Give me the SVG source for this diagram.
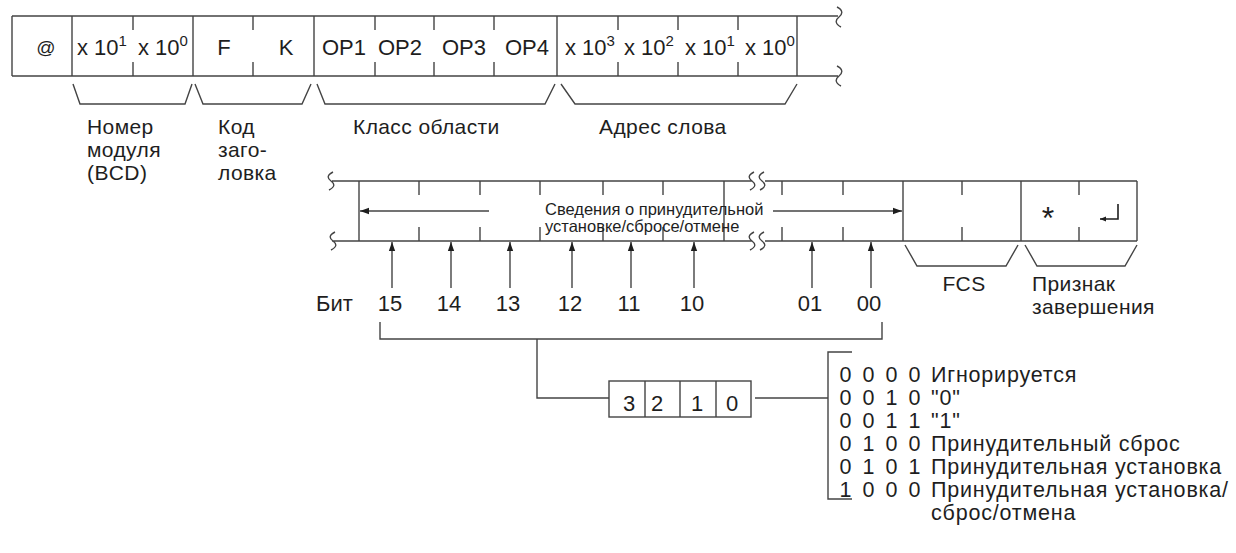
<svg xmlns="http://www.w3.org/2000/svg" width="1236" height="553" viewBox="0 0 1236 553">
<style>
.ln{stroke:#444;stroke-width:1.4;fill:none}
.t{font-family:"Liberation Sans",Arial,sans-serif;font-size:22px;fill:#1e1e1e}
.l{font-family:"Liberation Sans",Arial,sans-serif;font-size:21px;fill:#1e1e1e;letter-spacing:0.4px}
.m{text-anchor:middle}
.f{font-family:"Liberation Sans",Arial,sans-serif;font-size:16.5px;fill:#1e1e1e}
.tb{font-family:"Liberation Sans",Arial,sans-serif;font-size:21.5px;fill:#1e1e1e;letter-spacing:0.8px}
</style>
<defs>
<marker id="ah" viewBox="0 0 10 10" refX="10" refY="5" markerWidth="9" markerHeight="9" markerUnits="userSpaceOnUse" orient="auto"><path d="M0,1.5 L10,5 L0,8.5 z" fill="#1e1e1e"/></marker>
<marker id="ahs" viewBox="0 0 10 10" refX="10" refY="5" markerWidth="6" markerHeight="6" markerUnits="userSpaceOnUse" orient="auto"><path d="M0,1 L10,5 L0,9 z" fill="#1e1e1e"/></marker>
</defs>
<rect width="1236" height="553" fill="#fff"/>

<g id="frame-top">
<path class="ln" d="M12,16 H838 M12,76 H838 M12,16 V76 M72,16 V76 M193,16 V76 M314,16 V76 M557,16 V76 M797,16 V76
M133,16 V30 M133,62 V76 M253,16 V30 M253,62 V76 M375,16 V30 M375,62 V76 M434,16 V30 M434,62 V76 M494,16 V30 M494,62 V76
M618,16 V30 M618,62 V76 M678,16 V30 M678,62 V76 M738,16 V30 M738,62 V76
M837,7 C843,10 843,14 839,17 C835,20 835,24 841,27 M837,66 C843,69 843,73 839,76 C835,79 835,83 841,86"/>
<text class="t m" x="46" y="54" style="font-size:19px">@</text>
<text class="t" x="77" y="55">x 10<tspan dy="-9" font-size="15">1</tspan></text>
<text class="t" x="138" y="55">x 10<tspan dy="-9" font-size="15">0</tspan></text>
<text class="t m" x="224" y="55">F</text>
<text class="t m" x="286" y="55">K</text>
<text class="t" x="322" y="55">OP1</text>
<text class="t" x="378" y="55">OP2</text>
<text class="t" x="442" y="55">OP3</text>
<text class="t" x="505" y="55">OP4</text>
<text class="t" x="565" y="55">x 10<tspan dy="-9" font-size="15">3</tspan></text>
<text class="t" x="624" y="55">x 10<tspan dy="-9" font-size="15">2</tspan></text>
<text class="t" x="685" y="55">x 10<tspan dy="-9" font-size="15">1</tspan></text>
<text class="t" x="745" y="55">x 10<tspan dy="-9" font-size="15">0</tspan></text>
</g>

<g id="labels-top">
<text class="l" x="87" y="134">Номер</text>
<text class="l" x="87" y="157">модуля</text>
<text class="l" x="87" y="180">(BCD)</text>
<text class="l" x="218" y="134">Код</text>
<text class="l" x="218" y="157">заго-</text>
<text class="l" x="218" y="180">ловка</text>
<text class="l" x="353" y="134">Класс области</text>
<text class="l" x="599" y="134">Адрес слова</text>
</g>

<g id="frame-data">
<path class="ln" d="M332,181 H752 M765,181 H1137 M332,241 H752 M765,241 H1137
M359,181 V241 M724,181 V241 M903,181 V241 M1021,181 V241 M1137,181 V241
M419,181 V195 M419,227 V241 M480,181 V195 M480,227 V241 M540,181 V195 M540,227 V241 M603,181 V195 M603,227 V241 M663,181 V195 M663,227 V241
M782,181 V195 M782,227 V241 M843,181 V195 M843,227 V241 M962,181 V195 M962,227 V241 M1079,181 V195 M1079,227 V241
M333,172 C327,175 327,178 331,181 C335,184 335,187 329,190
M335,232 C329,235 329,238 333,241 C337,244 337,247 331,250
M754,172 C748,175 748,178 752,181 C756,184 756,187 750,190
M764,172 C758,175 758,178 762,181 C766,184 766,187 760,190
M754,232 C748,235 748,238 752,241 C756,244 756,247 750,250
M764,232 C758,235 758,238 762,241 C766,244 766,247 760,250"/>
<text class="f" x="545" y="215">Сведения о принудительной</text>
<text class="f" x="545" y="232">установке/сбросе/отмене</text>
<text class="t m" x="1048" y="229" style="font-size:32px">*</text>
<path class="ln" marker-end="url(#ahs)" d="M1118,204 V219 H1100" style="stroke:#1e1e1e;stroke-width:1.6"/>
</g>

<g id="labels-end">
<text class="l m" x="964" y="291">FCS</text>
<text class="l" x="1032" y="291">Признак</text>
<text class="l" x="1032" y="314">завершения</text>
</g>

<g id="bits">
<text class="t" x="316" y="311">Бит</text>
<text class="t m" x="390" y="311">15</text>
<text class="t m" x="449" y="311">14</text>
<text class="t m" x="508" y="311">13</text>
<text class="t m" x="570" y="311">12</text>
<text class="t m" x="629" y="311">11</text>
<text class="t m" x="692" y="311">10</text>
<text class="t m" x="810" y="311">01</text>
<text class="t m" x="869" y="311">00</text>
</g>

<g id="code-box">
<rect class="ln" x="609" y="381" width="142" height="36"/>
<path class="ln" d="M645,381 V417 M680,381 V417 M716,381 V417"/>
<text class="t m" x="629" y="411">3</text>
<text class="t m" x="657" y="411">2</text>
<text class="t m" x="697" y="411">1</text>
<text class="t m" x="732" y="411">0</text>
</g>

<g id="table">
<path class="ln" d="M852,352 H828 V499 H852"/>
<g class="tb m">
<text x="846" y="382">0</text><text x="869" y="382">0</text><text x="892" y="382">0</text><text x="915" y="382">0</text>
<text x="846" y="405">0</text><text x="869" y="405">0</text><text x="892" y="405">1</text><text x="915" y="405">0</text>
<text x="846" y="428">0</text><text x="869" y="428">0</text><text x="892" y="428">1</text><text x="915" y="428">1</text>
<text x="846" y="451">0</text><text x="869" y="451">1</text><text x="892" y="451">0</text><text x="915" y="451">0</text>
<text x="846" y="474">0</text><text x="869" y="474">1</text><text x="892" y="474">0</text><text x="915" y="474">1</text>
<text x="846" y="497">1</text><text x="869" y="497">0</text><text x="892" y="497">0</text><text x="915" y="497">0</text>
</g>
<text class="tb" x="931" y="382">Игнорируется</text>
<text class="tb" x="931" y="405">"0"</text>
<text class="tb" x="931" y="428">"1"</text>
<text class="tb" x="931" y="451">Принудительный сброс</text>
<text class="tb" x="931" y="474">Принудительная установка</text>
<text class="tb" x="931" y="497">Принудительная установка/</text>
<text class="tb" x="931" y="520">сброс/отмена</text>
</g>

<g id="connectors">
<path class="ln" d="M73,84 L80,104 L185,104 L192,84 M195,84 L203,104 L302,104 L311,84 M317,84 L325,104 L545,104 L555,84 M561,84 L575,104 L785,104 L797,84"/>
<path class="ln" d="M905,245 L917,266 L1006,266 L1018,245 M1025,245 L1037,266 L1125,266 L1137,245"/>
<path class="ln" marker-end="url(#ah)" d="M489,211 H360"/>
<path class="ln" marker-end="url(#ah)" d="M773,211 H902"/>
<g class="ln" marker-end="url(#ah)">
<path d="M392,288 V242"/><path d="M451,288 V242"/><path d="M510,288 V242"/><path d="M572,288 V242"/>
<path d="M631,288 V242"/><path d="M694,288 V242"/><path d="M812,288 V242"/><path d="M871,288 V242"/>
</g>
<path class="ln" d="M380,322 V339 H882 V322 M537,339 V398 H609"/>
<path class="ln" d="M755,398 H828"/>
</g>
</svg>
